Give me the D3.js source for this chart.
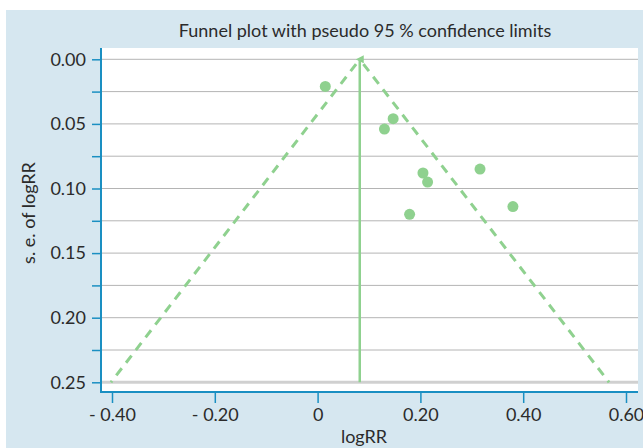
<!DOCTYPE html>
<html>
<head>
<meta charset="utf-8">
<style>
  body { margin: 0; background: #fff; }
  text { font-family: Lato, "Liberation Sans", Arial, sans-serif; fill: #2b2b2b; }
</style>
</head>
<body>
<svg width="643" height="448"></svg>
<script src="https://d3js.org/d3.v7.min.js"></script>
<script>

// Study estimates: logRR and its standard error
var logRR = [0.015, 0.147, 0.130, 0.205, 0.214, 0.316, 0.179, 0.380];
var seLogRR = [0.021, 0.046, 0.054, 0.088, 0.095, 0.085, 0.120, 0.114];

// Pooled estimate and the pseudo 95 % limits at the widest s.e.
var pooled = 0.082;
var funnelLow = -0.402;
var funnelHigh = 0.567;
var seMax = 0.25;

// Axis ticks
var xTicks = [-0.4, -0.2, 0, 0.2, 0.4, 0.6];
var yTicks = [0, 0.025, 0.05, 0.075, 0.1, 0.125, 0.15, 0.175, 0.2, 0.225, 0.25];

var svg = d3.select("svg"),
    plot = {left: 101, right: 638, top: 48, bottom: 392},
    green = "#8fd18f",
    blue = "#1a8fc2";

var x = d3.scaleLinear().domain([-0.4, 0.6]).range([112, 626]);
var y = d3.scaleLinear().domain([0, 0.25]).range([59.3, 382.3]);

// light blue panel behind everything
svg.append("rect")
    .attr("x", 6).attr("y", 10)
    .attr("width", 637).attr("height", 438)
    .attr("fill", "#d6e7f0");

// white plotting area
svg.append("rect")
    .attr("x", plot.left).attr("y", plot.top)
    .attr("width", plot.right - plot.left).attr("height", plot.bottom - plot.top)
    .attr("fill", "#fff");

// horizontal grid lines
svg.append("g").selectAll("line")
    .data(yTicks)
  .join("line")
    .attr("x1", plot.left).attr("x2", plot.right)
    .attr("y1", function(d) { return y(d); })
    .attr("y2", function(d) { return y(d); })
    .attr("stroke", function(d) { return d === 0.25 ? "#d0d0d0" : "#b4b4b4"; })
    .attr("stroke-width", function(d) { return d === 0.25 ? 3 : 1; });

// title
svg.append("text")
    .attr("x", 365).attr("y", 36.5)
    .attr("text-anchor", "middle")
    .style("font-size", "18px")
    .text("Funnel plot with pseudo 95 % confidence limits");

// y axis
var yAxis = svg.append("g")
    .attr("transform", "translate(" + plot.left + ",0)")
    .call(d3.axisLeft(y)
      .tickValues(yTicks)
      .tickSize(9)
      .tickPadding(6)
      .tickFormat(function(d, i) { return i % 2 === 0 ? d.toFixed(2) : ""; }));
yAxis.select(".domain").remove();
yAxis.selectAll(".tick line").attr("stroke", blue).attr("stroke-width", 1.5);
yAxis.selectAll(".tick text").style("font-size", "18px").attr("fill", "#2b2b2b");
svg.append("line")
    .attr("x1", plot.left).attr("x2", plot.left)
    .attr("y1", plot.top).attr("y2", plot.bottom + 1)
    .attr("stroke", blue).attr("stroke-width", 2);

// x axis
var xAxis = svg.append("g")
    .attr("transform", "translate(0," + plot.bottom + ")")
    .call(d3.axisBottom(x)
      .tickValues(xTicks)
      .tickSize(11)
      .tickPadding(5)
      .tickFormat(function(d) {
        if (d === 0) return "0";
        return d < 0 ? "- " + Math.abs(d).toFixed(2) : d.toFixed(2);
      }));
xAxis.select(".domain").remove();
xAxis.selectAll(".tick line").attr("stroke", blue).attr("stroke-width", 1.5);
xAxis.selectAll(".tick text").style("font-size", "18px").attr("fill", "#2b2b2b");
svg.append("line")
    .attr("x1", plot.left - 1).attr("x2", plot.right)
    .attr("y1", plot.bottom).attr("y2", plot.bottom)
    .attr("stroke", blue).attr("stroke-width", 2);

// axis titles
svg.append("text")
    .attr("x", 364).attr("y", 442.5)
    .attr("text-anchor", "middle")
    .style("font-size", "18px")
    .text("logRR");

svg.append("text")
    .attr("transform", "translate(35,213) rotate(-90)")
    .attr("text-anchor", "middle")
    .style("font-size", "18px")
    .text("s. e. of logRR");

// pseudo confidence limits (dashed)
var line = d3.line()
    .x(function(d) { return x(d[0]); })
    .y(function(d) { return y(d[1]); });

[[[pooled, 0], [funnelLow, seMax]], [[pooled, 0], [funnelHigh, seMax]]].forEach(function(seg) {
  svg.append("path")
      .datum(seg)
      .attr("fill", "none")
      .attr("stroke", green)
      .attr("stroke-width", 3)
      .attr("stroke-dasharray", "9,7")
      .attr("stroke-dashoffset", -6)
      .attr("d", line);
});

// pooled estimate (solid with arrowhead)
svg.append("defs").append("marker")
    .attr("id", "arrow")
    .attr("viewBox", "0 0 10 10")
    .attr("refX", 5).attr("refY", 5)
    .attr("markerWidth", 3.2).attr("markerHeight", 3.2)
    .attr("orient", "auto")
  .append("path")
    .attr("d", "M0,10 L5,0 L10,10 Z")
    .attr("fill", green);

svg.append("path")
    .datum([[pooled, seMax], [pooled, 0]])
    .attr("fill", "none")
    .attr("stroke", green)
    .attr("stroke-width", 2.5)
    .attr("marker-end", "url(#arrow)")
    .attr("d", line);

// studies
svg.append("g").selectAll("circle")
    .data(logRR)
  .join("circle")
    .attr("cx", function(d) { return x(d); })
    .attr("cy", function(d, i) { return y(seLogRR[i]); })
    .attr("r", 5.5)
    .attr("fill", green);

</script>
</body>
</html>
